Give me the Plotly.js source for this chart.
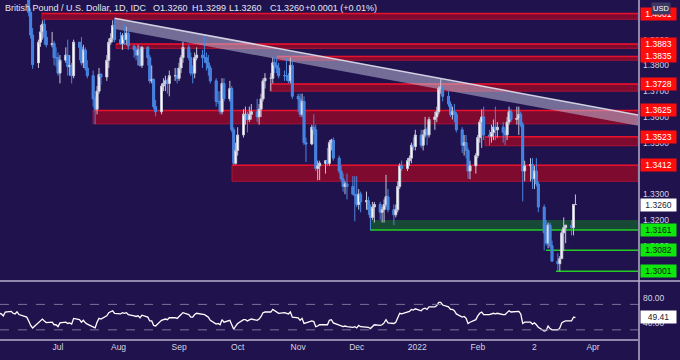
<!DOCTYPE html>
<html><head><meta charset="utf-8">
<script src="https://cdn.plot.ly/plotly-3.0.1.min.js"></script>
<style>html,body{margin:0;padding:0;background:#20124c;}#chart{width:680px;height:360px;}</style>
</head><body><div id="chart"></div>
<script>
// ---- data (GBP/USD daily) ----
const dates = [
'2021-06-01','2021-06-02','2021-06-03','2021-06-04','2021-06-07','2021-06-08','2021-06-09','2021-06-10','2021-06-11','2021-06-14','2021-06-15','2021-06-16','2021-06-17','2021-06-18','2021-06-21','2021-06-22','2021-06-23','2021-06-24','2021-06-25','2021-06-28','2021-06-29','2021-06-30',
'2021-07-01','2021-07-02','2021-07-05','2021-07-06','2021-07-07','2021-07-08','2021-07-09','2021-07-12','2021-07-13','2021-07-14','2021-07-15','2021-07-16','2021-07-19','2021-07-20','2021-07-21','2021-07-22','2021-07-23','2021-07-26','2021-07-27','2021-07-28','2021-07-29','2021-07-30',
'2021-08-02','2021-08-03','2021-08-04','2021-08-05','2021-08-06','2021-08-09','2021-08-10','2021-08-11','2021-08-12','2021-08-13','2021-08-16','2021-08-17','2021-08-18','2021-08-19','2021-08-20','2021-08-23','2021-08-24','2021-08-25','2021-08-26','2021-08-27','2021-08-30','2021-08-31',
'2021-09-01','2021-09-02','2021-09-03','2021-09-06','2021-09-07','2021-09-08','2021-09-09','2021-09-10','2021-09-13','2021-09-14','2021-09-15','2021-09-16','2021-09-17','2021-09-20','2021-09-21','2021-09-22','2021-09-23','2021-09-24','2021-09-27','2021-09-28','2021-09-29','2021-09-30',
'2021-10-01','2021-10-04','2021-10-05','2021-10-06','2021-10-07','2021-10-08','2021-10-11','2021-10-12','2021-10-13','2021-10-14','2021-10-15','2021-10-18','2021-10-19','2021-10-20','2021-10-21','2021-10-22','2021-10-25','2021-10-26','2021-10-27','2021-10-28','2021-10-29',
'2021-11-01','2021-11-02','2021-11-03','2021-11-04','2021-11-05','2021-11-08','2021-11-09','2021-11-10','2021-11-11','2021-11-12','2021-11-15','2021-11-16','2021-11-17','2021-11-18','2021-11-19','2021-11-22','2021-11-23','2021-11-24','2021-11-25','2021-11-26','2021-11-29','2021-11-30',
'2021-12-01','2021-12-02','2021-12-03','2021-12-06','2021-12-07','2021-12-08','2021-12-09','2021-12-10','2021-12-13','2021-12-14','2021-12-15','2021-12-16','2021-12-17','2021-12-20','2021-12-21','2021-12-22','2021-12-23','2021-12-24','2021-12-27','2021-12-28','2021-12-29','2021-12-30','2021-12-31',
'2022-01-03','2022-01-04','2022-01-05','2022-01-06','2022-01-07','2022-01-10','2022-01-11','2022-01-12','2022-01-13','2022-01-14','2022-01-17','2022-01-18','2022-01-19','2022-01-20','2022-01-21','2022-01-24','2022-01-25','2022-01-26','2022-01-27','2022-01-28','2022-01-31',
'2022-02-01','2022-02-02','2022-02-03','2022-02-04','2022-02-07','2022-02-08','2022-02-09','2022-02-10','2022-02-11','2022-02-14','2022-02-15','2022-02-16','2022-02-17','2022-02-18','2022-02-21','2022-02-22','2022-02-23','2022-02-24','2022-02-25','2022-02-28',
'2022-03-01','2022-03-02','2022-03-03','2022-03-04','2022-03-07','2022-03-08','2022-03-09','2022-03-10','2022-03-11','2022-03-14','2022-03-15','2022-03-16','2022-03-17','2022-03-18','2022-03-21','2022-03-22','2022-03-23'
];
const open = [
1.4150,1.4150,1.4140,1.4100,1.4160,1.4180,1.4150,1.4120,1.4180,1.4110,1.4110,1.4100,1.4005,1.3918,1.3810,1.3890,1.3930,1.3960,1.3910,1.3880,1.3885,1.3830,
1.3830,1.3770,1.3820,1.3840,1.3795,1.3800,1.3760,1.3890,1.3870,1.3810,1.3860,1.3790,1.3760,1.3670,1.3630,1.3700,1.3765,1.3755,1.3820,1.3890,1.3905,1.3955,
1.3900,1.3885,1.3915,1.3900,1.3925,1.3875,1.3860,1.3840,1.3860,1.3800,1.3870,1.3830,1.3740,1.3745,1.3640,1.3620,1.3720,1.3730,1.3740,1.3730,1.3760,1.3760,
1.3750,1.3790,1.3830,1.3870,1.3830,1.3770,1.3770,1.3830,1.3840,1.3830,1.3830,1.3810,1.3790,1.3740,1.3660,1.3660,1.3620,1.3730,1.3670,1.3710,1.3550,1.3420,
1.3470,1.3530,1.3610,1.3610,1.3590,1.3610,1.3620,1.3600,1.3630,1.3670,1.3740,1.3750,1.3750,1.3810,1.3800,1.3790,1.3760,1.3760,1.3760,1.3740,1.3800,
1.3680,1.3670,1.3610,1.3660,1.3500,1.3495,1.3560,1.3550,1.3400,1.3410,1.3420,1.3430,1.3420,1.3500,1.3510,1.3440,1.3390,1.3360,1.3330,1.3340,1.3330,1.3300,
1.3295,1.3260,1.3300,1.3270,1.3275,1.3240,1.3210,1.3250,1.3260,1.3230,1.3240,1.3260,1.3290,1.3240,1.3220,1.3240,1.3330,1.3410,1.3400,1.3430,1.3440,1.3490,1.3485,
1.3530,1.3490,1.3530,1.3550,1.3530,1.3590,1.3600,1.3620,1.3710,1.3715,1.3680,1.3650,1.3610,1.3620,1.3610,1.3550,1.3490,1.3500,1.3470,1.3390,1.3410,
1.3450,1.3520,1.3580,1.3600,1.3530,1.3525,1.3540,1.3560,1.3550,1.3560,1.3540,1.3530,1.3580,1.3620,1.3590,1.3595,1.3610,1.3570,1.3390,1.3410,
1.3415,1.3360,1.3390,1.3340,1.3250,1.3150,1.3110,1.3180,1.3100,1.3040,1.3030,1.3050,1.3150,1.3170,1.3180,1.3170,1.3260
];
const high = [
1.4250,1.4180,1.4170,1.4180,1.4200,1.4200,1.4190,1.4200,1.4190,1.4134,1.4132,1.4125,1.4020,1.3945,1.3900,1.3957,1.3975,1.3978,1.3935,1.3930,1.3895,1.3870,
1.3850,1.3840,1.3870,1.3900,1.3840,1.3810,1.3900,1.3890,1.3910,1.3880,1.3870,1.3820,1.3780,1.3680,1.3720,1.3790,1.3770,1.3840,1.3905,1.3925,1.3975,1.3983,
1.3930,1.3925,1.3958,1.3950,1.3935,1.3880,1.3870,1.3880,1.3875,1.3875,1.3875,1.3840,1.3800,1.3750,1.3665,1.3730,1.3750,1.3760,1.3750,1.3780,1.3790,1.3790,
1.3810,1.3840,1.3891,1.3880,1.3850,1.3800,1.3850,1.3870,1.3860,1.3913,1.3850,1.3840,1.3800,1.3750,1.3700,1.3700,1.3750,1.3750,1.3740,1.3720,1.3560,1.3500,
1.3560,1.3630,1.3640,1.3620,1.3640,1.3650,1.3670,1.3650,1.3690,1.3750,1.3770,1.3770,1.3830,1.3835,1.3830,1.3810,1.3780,1.3830,1.3770,1.3830,1.3820,
1.3690,1.3690,1.3690,1.3680,1.3520,1.3570,1.3610,1.3570,1.3430,1.3430,1.3430,1.3480,1.3510,1.3515,1.3520,1.3450,1.3410,1.3380,1.3350,1.3380,1.3370,1.3370,
1.3370,1.3320,1.3310,1.3310,1.3290,1.3260,1.3270,1.3270,1.3270,1.3250,1.3280,1.3375,1.3320,1.3260,1.3260,1.3350,1.3420,1.3430,1.3440,1.3450,1.3500,1.3520,1.3550,
1.3550,1.3550,1.3600,1.3560,1.3600,1.3620,1.3640,1.3720,1.3749,1.3720,1.3700,1.3660,1.3640,1.3650,1.3620,1.3560,1.3530,1.3530,1.3480,1.3430,1.3460,
1.3530,1.3590,1.3630,1.3640,1.3550,1.3570,1.3590,1.3640,1.3580,1.3580,1.3550,1.3600,1.3640,1.3630,1.3640,1.3640,1.3620,1.3580,1.3430,1.3440,
1.3440,1.3410,1.3440,1.3350,1.3260,1.3200,1.3190,1.3190,1.3120,1.3070,1.3060,1.3160,1.3210,1.3180,1.3200,1.3260,1.3299
];
const low = [
1.4140,1.4100,1.4090,1.4090,1.4150,1.4130,1.4110,1.4100,1.4075,1.4070,1.4070,1.3990,1.3904,1.3787,1.3790,1.3872,1.3900,1.3880,1.3870,1.3870,1.3800,1.3795,
1.3760,1.3730,1.3810,1.3760,1.3760,1.3730,1.3750,1.3820,1.3800,1.3790,1.3780,1.3750,1.3640,1.3572,1.3610,1.3690,1.3725,1.3740,1.3790,1.3880,1.3890,1.3890,
1.3880,1.3860,1.3880,1.3880,1.3860,1.3830,1.3820,1.3800,1.3795,1.3790,1.3800,1.3730,1.3730,1.3630,1.3602,1.3610,1.3700,1.3700,1.3690,1.3680,1.3740,1.3730,
1.3740,1.3770,1.3810,1.3820,1.3760,1.3730,1.3750,1.3820,1.3790,1.3810,1.3780,1.3760,1.3730,1.3640,1.3650,1.3610,1.3610,1.3660,1.3660,1.3540,1.3412,1.3415,
1.3450,1.3520,1.3570,1.3540,1.3580,1.3590,1.3580,1.3570,1.3600,1.3660,1.3710,1.3700,1.3730,1.3770,1.3770,1.3750,1.3740,1.3740,1.3730,1.3730,1.3670,
1.3620,1.3600,1.3600,1.3490,1.3425,1.3490,1.3530,1.3390,1.3354,1.3355,1.3380,1.3410,1.3410,1.3470,1.3430,1.3380,1.3350,1.3310,1.3300,1.3280,1.3300,1.3195,
1.3250,1.3240,1.3230,1.3240,1.3220,1.3161,1.3200,1.3190,1.3200,1.3190,1.3190,1.3250,1.3230,1.3180,1.3210,1.3230,1.3320,1.3390,1.3390,1.3410,1.3420,1.3470,1.3470,
1.3480,1.3470,1.3520,1.3490,1.3520,1.3550,1.3580,1.3610,1.3690,1.3660,1.3640,1.3600,1.3590,1.3580,1.3540,1.3460,1.3450,1.3440,1.3360,1.3358,1.3380,
1.3440,1.3500,1.3480,1.3510,1.3490,1.3500,1.3510,1.3510,1.3520,1.3500,1.3490,1.3510,1.3570,1.3580,1.3570,1.3530,1.3560,1.3272,1.3350,1.3350,
1.3320,1.3320,1.3330,1.3230,1.3082,1.3100,1.3090,1.3090,1.3040,1.3003,1.3001,1.3050,1.3080,1.3110,1.3140,1.3140,1.3260
];
const close = [
1.4150,1.4140,1.4100,1.4160,1.4180,1.4150,1.4120,1.4180,1.4110,1.4110,1.4100,1.4005,1.3918,1.3803,1.3890,1.3930,1.3960,1.3910,1.3880,1.3885,1.3830,1.3830,
1.3770,1.3820,1.3840,1.3795,1.3800,1.3760,1.3890,1.3870,1.3810,1.3860,1.3790,1.3760,1.3670,1.3630,1.3700,1.3765,1.3755,1.3820,1.3890,1.3905,1.3955,1.3900,
1.3885,1.3915,1.3900,1.3925,1.3875,1.3860,1.3840,1.3860,1.3800,1.3870,1.3830,1.3740,1.3745,1.3640,1.3620,1.3720,1.3730,1.3740,1.3730,1.3760,1.3760,1.3750,
1.3790,1.3830,1.3870,1.3830,1.3770,1.3770,1.3830,1.3840,1.3830,1.3830,1.3810,1.3790,1.3740,1.3660,1.3660,1.3620,1.3730,1.3670,1.3710,1.3550,1.3420,1.3470,
1.3530,1.3610,1.3610,1.3590,1.3610,1.3620,1.3600,1.3630,1.3670,1.3740,1.3750,1.3750,1.3810,1.3800,1.3790,1.3760,1.3760,1.3760,1.3740,1.3800,1.3680,
1.3670,1.3610,1.3660,1.3500,1.3495,1.3560,1.3550,1.3400,1.3410,1.3420,1.3430,1.3420,1.3500,1.3510,1.3440,1.3390,1.3360,1.3330,1.3340,1.3330,1.3300,1.3295,
1.3260,1.3300,1.3270,1.3275,1.3240,1.3210,1.3250,1.3260,1.3230,1.3240,1.3260,1.3290,1.3240,1.3220,1.3240,1.3330,1.3410,1.3400,1.3430,1.3440,1.3490,1.3485,1.3530,
1.3490,1.3530,1.3550,1.3530,1.3590,1.3600,1.3620,1.3710,1.3715,1.3680,1.3650,1.3610,1.3620,1.3610,1.3550,1.3490,1.3500,1.3470,1.3390,1.3410,1.3450,
1.3520,1.3580,1.3600,1.3530,1.3525,1.3540,1.3560,1.3550,1.3560,1.3540,1.3530,1.3580,1.3620,1.3590,1.3595,1.3610,1.3570,1.3390,1.3410,1.3415,
1.3360,1.3390,1.3340,1.3250,1.3150,1.3110,1.3180,1.3100,1.3040,1.3030,1.3050,1.3150,1.3170,1.3180,1.3170,1.3260,1.3260
];
const rsi = [
56,55,52,58,59,56,55,58.5,54,51,50,44,37,33,42,45,47,44,41.5,42,38,38,
35,41,42,40,41,39,48,46,42,45,41,39,34,33,42,48,47,52,57,58,60,56,
55,57,56,57,54,52,51,52,49,53,50,44,44,37,36,45,46,47,46,49,49,48,
51,54,57,54,50,50,54,56,54,54,52,50,45,39,40,38,46,42,45,37,31,36,
40,46,46,44,46,47,45,47,51,57,58,58,62,60,59,56,57,56,55,58,50,
49,45,48,40,41,44,43,35,36,38,38,38,45,46,41,37,36,35,36,35,34,35,
33,37,35,35,34,32,35,38,37,38,41,46,41,40,42,50,56,55,58,59,62,61,63,
60,63,64,62,66,66,68,73,73,69,66,62,62,60,55,50,51,48,40,42,46,
52,56,58,54,54,55,56,55,56,54,54,57,60,58,58,59,55,40,42,42,
39,41,38,34,28,29,36,32,30,30,33,41,43,44,44,50,49.41
];
// key levels
const redLevels   = [1.4001, 1.3883, 1.3835, 1.3728, 1.3625, 1.3523, 1.3412];
const redLower    = [1.3979, 1.3866, 1.3820, 1.3700, 1.3573, 1.3488, 1.3350];
const redStart    = ['2021-06-22 19:00','2021-07-30 18:00','2021-10-21 05:00','2021-10-17 14:00','2021-07-18 22:00','2022-02-04 16:00','2021-09-28 02:00'];
const greenLevels = [1.3161, 1.3082, 1.3001];
const greenUpper  = [1.3200, null, null];
const greenStart  = ['2021-12-07 19:00','2022-03-07 22:00','2022-03-13 01:00'];
const lastPrice = 1.3260;
const lastRsi = 49.41;
const trendA = ['2021-07-30', 1.3983];
const trendB = ['2022-01-13', 1.3749];
const monthTicks  = ['2021-07-01','2021-08-01','2021-09-01','2021-10-01','2021-11-01','2021-12-01','2022-01-01','2022-02-01','2022-03-02','2022-04-01'];
const monthLabels = ['Jul','Aug','Sep','Oct','Nov','Dec','2022','Feb','2','Apr'];
const priceTicks  = [1.31, 1.32, 1.33, 1.35, 1.36, 1.37, 1.38, 1.39];
const rsiTicks    = [80, 40];
const headerParts = ['British Pound / U.S. Dollar, 1D, IDC','O1.3260','H1.3299','L1.3260','C1.3260','+0.0001 (+0.01%)'];

// ---- layout ----
const BG = '#20124c';
const FONT = 'Liberation Sans, Arial, sans-serif';
const X0 = '2021-06-01 07:05', X1 = '2022-04-24 01:05';
const PW = 638, PH = 340;
const splitY = 59 / PH;

const shapes = [];
redLevels.forEach((lv, i) => {
  shapes.push({type:'rect', xref:'x', yref:'y', x0:redStart[i], x1:X1, y0:redLower[i], y1:lv,
    fillcolor:'rgba(150,10,40,0.8)', line:{color:'rgba(210,20,50,0.7)', width:1}, layer:'below'});
  shapes.push({type:'line', xref:'x', yref:'y', x0:redStart[i], x1:X1, y0:lv, y1:lv,
    line:{color:'#e8102c', width:1.5}, layer:'below'});
});
greenLevels.forEach((lv, i) => {
  if (greenUpper[i] !== null) {
    shapes.push({type:'rect', xref:'x', yref:'y', x0:greenStart[i], x1:X1, y0:lv, y1:greenUpper[i],
      fillcolor:'rgba(20,110,40,0.6)', line:{width:0}, layer:'below'});
  }
  shapes.push({type:'line', xref:'x', yref:'y', x0:greenStart[i], x1:X1, y0:lv, y1:lv,
    line:{color:'#22cc22', width:1.5}, layer:'below'});
});
// descending trendline through the two highs, with shaded channel under it
const msDay = 86400000;
const tA = new Date(trendA[0]).getTime(), tB = new Date(trendB[0]).getTime();
const slope = (trendB[1] - trendA[1]) / ((tB - tA) / msDay);
const endDate = '2022-04-26';
const tE = new Date(endDate).getTime();
const yEnd = trendA[1] + slope * ((tE - tA) / msDay);
const thick = 0.0042;
shapes.push({type:'path', xref:'x', yref:'y',
  path:`M ${trendA[0]},${trendA[1]} L ${endDate},${yEnd} L ${endDate},${yEnd - thick} L ${trendA[0]},${trendA[1] - thick} Z`,
  fillcolor:'rgba(200,200,225,0.5)', line:{width:0}, layer:'below'});
shapes.push({type:'line', xref:'x', yref:'y', x0:trendA[0], y0:trendA[1], x1:endDate, y1:yEnd,
  line:{color:'rgba(225,225,240,0.9)', width:1.5}, layer:'below'});
// RSI guide lines
[70, 30].forEach(v => shapes.push({type:'line', xref:'paper', yref:'y2', x0:0, x1:1, y0:v, y1:v,
  line:{color:'#77739a', width:1, dash:'dash'}}));
// pane separators
shapes.push({type:'line', xref:'paper', yref:'paper', x0:0, x1:680/PW, y0:splitY, y1:splitY, line:{color:'#b4b0cc', width:1.5}});
shapes.push({type:'line', xref:'paper', yref:'paper', x0:0, x1:1, y0:0, y1:0, line:{color:'#b4b0cc', width:1.5}});
shapes.push({type:'line', xref:'paper', yref:'paper', x0:639/PW, x1:639/PW, y0:-20/PH, y1:1, line:{color:'#b4b0cc', width:1.5}});

const annotations = [];
const hdrX = [3, 151, 190, 227, 268, 303];
headerParts.forEach((t, i) => annotations.push({xref:'paper', yref:'paper', x:hdrX[i]/PW, y:1 - 8/PH,
  xanchor:'left', yanchor:'middle', showarrow:false, text:t, font:{family:FONT, size:9, color:'#e6e6f2'}}));
function box(y, yref, text, bg, fg) {
  annotations.push({xref:'paper', yref:yref, x:639.5/PW, y:y, xanchor:'left', yanchor:'middle', showarrow:false,
    text:text, bgcolor:bg, font:{family:FONT, size:8.5, color:fg}, width:33, height:10, borderpad:1, align:'center'});
}
redLevels.forEach(lv => box(lv, 'y', lv.toFixed(4), '#ff0d0d', '#ffffff'));
box(lastPrice, 'y', lastPrice.toFixed(4), '#ffffff', '#222233');
greenLevels.forEach(lv => box(lv, 'y', lv.toFixed(4), '#0ee60e', '#102010'));
box(lastRsi, 'y2', lastRsi.toFixed(2), '#ffffff', '#222233');
annotations.push({xref:'paper', yref:'paper', x:651/PW, y:1 - 8/PH, xanchor:'left', yanchor:'middle', showarrow:false,
  text:'USD', bgcolor:'#3d3862', font:{family:FONT, size:7.5, color:'#ffffff'}, borderpad:1});

// candle bodies drawn as bars (wider than the default candlestick body)
const bodyBase = open.map((o, i) => Math.min(o, close[i]));
const bodyLen  = open.map((o, i) => Math.max(Math.abs(close[i] - o), 0.00008));
const bodyCol  = open.map((o, i) => close[i] >= o ? '#ffffff' : '#3d7fe0');

const traces = [
  {type:'candlestick', x:dates, open:open, high:high, low:low, close:close, xaxis:'x', yaxis:'y',
   increasing:{line:{color:'#c4c4d6', width:1}, fillcolor:'#ffffff'},
   decreasing:{line:{color:'#4a86e0', width:1}, fillcolor:'#3d7fe0'},
   whiskerwidth:0, hoverinfo:'skip'},
  {type:'bar', x:dates, base:bodyBase, y:bodyLen, width:1.25*86400000, xaxis:'x', yaxis:'y',
   marker:{color:bodyCol, line:{width:0}}, hoverinfo:'skip'},
  {type:'scatter', mode:'lines', x:dates, y:rsi, xaxis:'x', yaxis:'y2',
   line:{color:'#ffffff', width:1.3}, hoverinfo:'skip'}
];

const tickFont = {family:FONT, size:8.5, color:'#d4d4e4'};
const layout = {
  width:680, height:360, margin:{l:0, r:42, t:0, b:20, pad:0},
  paper_bgcolor:BG, plot_bgcolor:BG, showlegend:false, hovermode:false,
  boxgap:0, boxgroupgap:0, barmode:'overlay',
  font:{family:FONT, color:'#d0d0e0', size:8.5},
  xaxis:{type:'date', range:[X0, X1], domain:[0,1], anchor:'y2', rangeslider:{visible:false},
    tickmode:'array', tickvals:monthTicks, ticktext:monthLabels, showgrid:false, zeroline:false,
    showline:false, ticks:'', tickfont:tickFont, automargin:false, fixedrange:true},
  yaxis:{domain:[splitY, 1], range:[1.296308, 1.405385], side:'right', anchor:'x',
    tickmode:'array', tickvals:priceTicks, ticktext:priceTicks.map(v => v.toFixed(4)),
    showgrid:false, zeroline:false, showline:false, ticks:'', ticklabelstandoff:4,
    tickfont:tickFont, automargin:false, fixedrange:true},
  yaxis2:{domain:[0, splitY], range:[14.07, 106.7], side:'right', anchor:'x',
    tickmode:'array', tickvals:rsiTicks, ticktext:rsiTicks.map(v => v.toFixed(2)),
    showgrid:false, zeroline:false, showline:false, ticks:'', ticklabelstandoff:4,
    tickfont:tickFont, automargin:false, fixedrange:true},
  shapes:shapes, annotations:annotations
};
Plotly.newPlot('chart', traces, layout, {staticPlot:true, displayModeBar:false});
</script></body></html>
